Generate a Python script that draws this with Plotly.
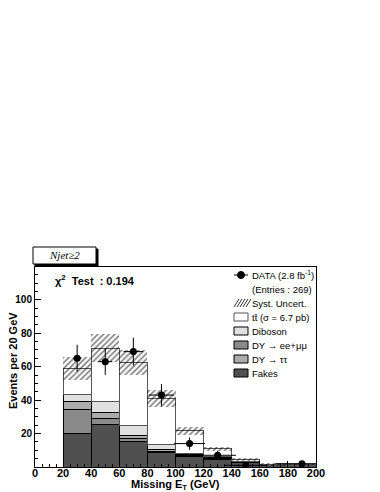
import plotly.graph_objects as go

BIN_CENTERS = [30, 50, 70, 90, 110, 130, 150, 170, 190]
FAKES = [20.2, 25.4, 15.5, 8.4, 6.2, 4.7, 2.6, 0.8, 0.9]
DY_EE = [14.0, 3.8, 1.6, 1.0, 0.5, 0.3, 0.1, 0.1, 0.05]
DY_TAUTAU = [5.2, 3.2, 2.0, 1.2, 0.7, 0.4, 0.2, 0.1, 0.05]
DIBOSON = [4.2, 6.6, 6.0, 3.0, 0.8, 0.6, 0.3, 0.1, 0.1]
TTBAR = [15.4, 32.0, 37.4, 27.4, 13.4, 4.8, 1.3, 0.4, 0.4]
SYST = [7.0, 8.5, 7.5, 5.0, 2.2, 1.0, 0.7, 0.7, 0.4]
DATA = [65, 63, 69, 43, 14, 7, 1, None, 2]
DATA_ERR = [8.1, 7.9, 8.3, 6.6, 3.7, 2.6, 1.0, 0, 1.4]

X_TICKS = list(range(0, 201, 20))
Y_TICKS = [20, 40, 60, 80, 100]

# plot frame in page pixels; the page body adds an 8px offset
OFF = 8
L, R, T, B = 35, 316, 267, 467
W, H = 380 - OFF, 492 - OFF
FONT = "Liberation Sans, Arial, sans-serif"

COLORS = {
    "Fakes": ("#505050", "black"),
    "DY → ee+μμ": ("#8a8a8a", "black"),
    "DY → ττ": ("#ababab", "black"),
    "Diboson": ("#e0e0e0", "black"),
    "tt\u0304 (σ = 6.7 pb)": ("white", "#555555"),
}
STACK = [
    ("Fakes", FAKES),
    ("DY → ee+μμ", DY_EE),
    ("DY → ττ", DY_TAUTAU),
    ("Diboson", DIBOSON),
    ("tt\u0304 (σ = 6.7 pb)", TTBAR),
]
LEGEND_ORDER = ["tt\u0304 (σ = 6.7 pb)", "Diboson", "DY → ee+μμ", "DY → ττ", "Fakes"]


def px(x):
    return (x - L) / (R - L)


def py(y):
    return (B - y) / (B - T)


def rect(x0, y0, x1, y1, fill, line="black", width=1):
    return dict(type="rect", xref="paper", yref="paper",
                x0=px(x0), x1=px(x1), y0=py(y1), y1=py(y0),
                fillcolor=fill, line=dict(color=line, width=width))


def seg(x0, y0, x1, y1, color="black", width=1):
    return dict(type="line", xref="paper", yref="paper",
                x0=px(x0), x1=px(x1), y0=py(y0), y1=py(y1),
                line=dict(color=color, width=width))


def text(x, y, s, size, xanchor="left", **kw):
    return dict(xref="paper", yref="paper", x=px(x), y=py(y), text=s,
                showarrow=False, xanchor=xanchor, yanchor="middle",
                font=dict(family=kw.pop("family", FONT), size=size,
                          color="black", weight=kw.pop("weight", "normal")),
                **kw)


fig = go.Figure()
for name, vals in STACK:
    color, line = COLORS[name]
    fig.add_bar(x=BIN_CENTERS, y=vals, width=20, name=name,
                marker=dict(color=color, line=dict(color=line, width=1)))

totals = [sum(v) for v in zip(FAKES, DY_EE, DY_TAUTAU, DIBOSON, TTBAR)]
fig.add_bar(
    x=BIN_CENTERS, y=[2 * e for e in SYST],
    base=[t - e for t, e in zip(totals, SYST)], width=20,
    marker=dict(color="rgba(0,0,0,0)", line=dict(width=0),
                pattern=dict(shape="/", fgcolor="black",
                             bgcolor="rgba(0,0,0,0)", size=4, solidity=0.4)),
)
fig.add_scatter(
    x=BIN_CENTERS, y=DATA, mode="markers",
    marker=dict(color="black", size=7),
    error_y=dict(array=DATA_ERR, width=0, thickness=1, color="black"),
    error_x=dict(value=10, width=0, thickness=1, color="black"),
)

axis_style = dict(
    ticks="inside", ticklen=6, tickcolor="black", showline=True,
    linecolor="black", mirror=True, showgrid=False, zeroline=False,
    automargin=False,
    minor=dict(dtick=5, ticks="inside", ticklen=3, tickcolor="black"),
)
fig.update_xaxes(range=[0, 200], tickvals=X_TICKS, ticklabelstandoff=-4,
                 **axis_style,
                 tickfont=dict(family=FONT, size=11, color="black", weight="bold"))
fig.update_yaxes(range=[0, 119.6], tickvals=Y_TICKS, **axis_style,
                 tickfont=dict(family=FONT, size=10, color="black", weight="bold"))

shapes = [
    rect(35, 249, 98, 266, "black"),
    rect(33, 247, 96, 264, "white"),
]
notes = [
    text(64.5, 255.5, "<i>Njet≥2</i>", 11, xanchor="center",
         family="Liberation Serif, Times New Roman, serif"),
    text(53, 280, "χ<sup>2</sup>\u00a0 Test\u00a0 : 0.194", 11, weight="bold"),
    text(13, 361, "Events per 20 GeV", 11, xanchor="center",
         textangle=-90, weight="bold"),
    text(175, 485, "Missing E<sub>T</sub> (GeV)", 11, xanchor="center",
         weight="bold"),
]

# legend drawn by hand to keep ROOT's tight row spacing
legend = [
    ("DATA (2.8 fb<sup>-1</sup>)", "data"),
    ("(Entries : 269)", None),
    ("Syst. Uncert.", "hatch"),
] + [(name, COLORS[name]) for name in LEGEND_ORDER]
sx0, sx1, tx = 234, 248, 250
for i, (label, kind) in enumerate(legend):
    yc = 275 + 14 * i
    if kind == "data":
        shapes.append(seg(sx0, yc, sx1, yc))
        shapes.append(dict(type="circle", xref="paper", yref="paper",
                           x0=px(241 - 3.5), x1=px(241 + 3.5),
                           y0=py(yc + 3.5), y1=py(yc - 3.5),
                           fillcolor="black", line=dict(color="black", width=1)))
    elif kind == "hatch":
        for k in range(5):
            x0 = sx0 + 3 * k
            shapes.append(seg(x0, yc + 4, x0 + 5, yc - 4, width=0.8))
    elif kind:
        shapes.append(rect(sx0, yc - 4, sx1, yc + 4, kind[0], kind[1]))
    notes.append(text(tx, yc, label, 9.5))

fig.update_layout(
    width=W, height=H, autosize=False, barmode="stack", showlegend=False,
    margin=dict(l=L - OFF, r=W - (R - OFF), t=T - OFF, b=H - (B - OFF), pad=0),
    paper_bgcolor="white", plot_bgcolor="white",
    shapes=shapes, annotations=notes,
)

fig.write_html("out.html")
